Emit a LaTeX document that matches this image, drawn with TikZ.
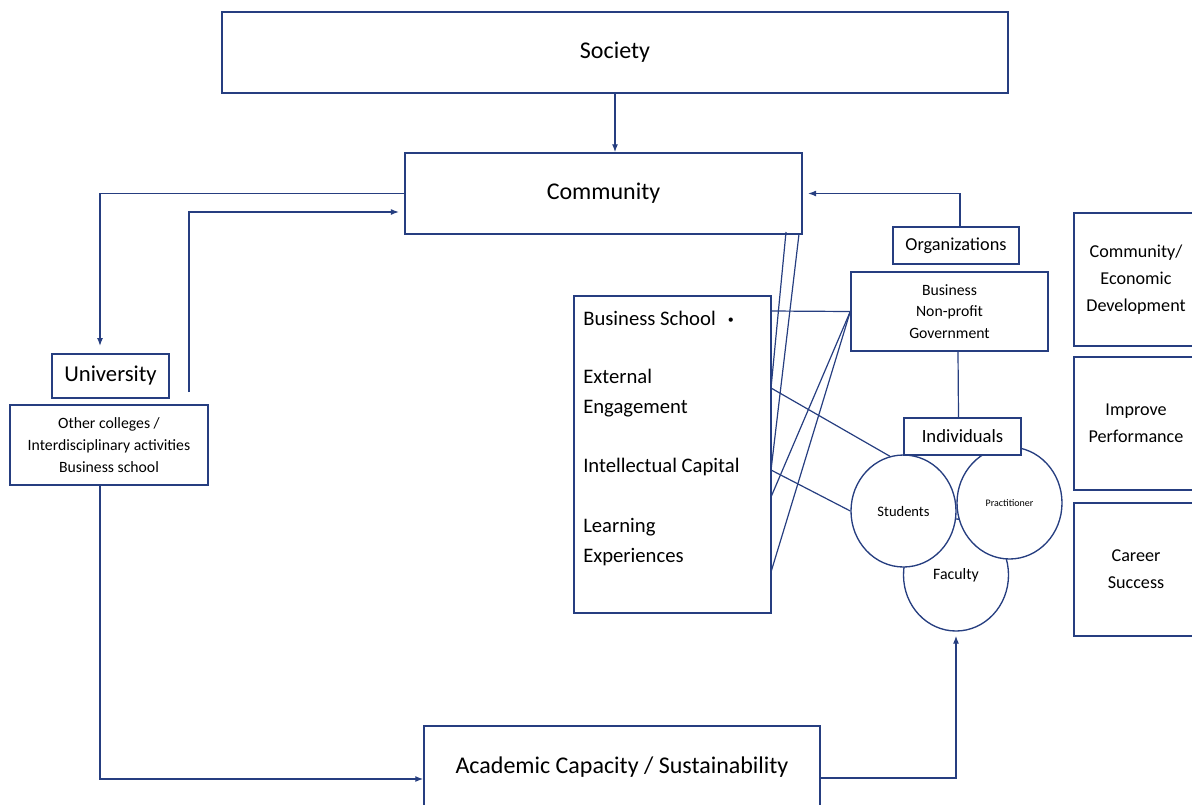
\documentclass[tikz,border=0pt]{standalone}
\usepackage{fontspec}
\setmainfont{Carlito}
\usepackage{xcolor}
\usepackage{tikz}
\usetikzlibrary{shapes}
\usetikzlibrary{calc}
\usetikzlibrary{arrows.meta}
\definecolor{navy}{RGB}{38,62,128}
\tikzset{ box_node/.style = {rectangle, draw=navy, line width=1.1pt, fill=white, align=center, inner sep=2pt} }
\tikzset{ person_node/.style = {ellipse, draw=navy, line width=1pt, fill=white, inner sep=0pt, minimum width=78.75pt, minimum height=84pt} }
\tikzset{ item_node/.style = {anchor=west, align=left, inner sep=0pt, font=\fontsize{15.5}{22.5}\selectfont} }
\tikzset{ flow/.style = {draw=navy, line width=1pt, -{Latex[length=6pt,width=4.5pt]}} }
\tikzset{ link/.style = {draw=navy, line width=0.9pt} }

\begin{document}
\begin{tikzpicture}[x=0.75pt,y=-0.75pt]
    \useasboundingbox (0,0) rectangle (1192,804);
    \clip (0,0) rectangle (1192,804);
    % top
    \node [style=box_node, minimum width=589.5pt, minimum height=60.75pt, font=\fontsize{18}{22}\selectfont] (Society) at (615,52.5) {Society};
    \node [style=box_node, minimum width=297.75pt, minimum height=60.75pt, font=\fontsize{18}{22}\selectfont] (Community) at (603.5,193.5) {Community};
    % university side
    \node [style=box_node, minimum width=87.75pt, minimum height=33pt, font=\fontsize{17}{20}\selectfont] (University) at (110.5,376) {University};
    \node [style=box_node, minimum width=148.5pt, minimum height=60pt, font=\fontsize{11.8}{16.5}\selectfont] (Colleges) at (109,445) {Other colleges /\\Interdisciplinary activities\\Business school};
    \node [style=box_node, minimum width=297pt, minimum height=61.5pt, font=\fontsize{18}{22}\selectfont] (Academic) at (622,767) {Academic Capacity / Sustainability};
    % business school
    \node [style=box_node, minimum width=147.75pt, minimum height=237.75pt] (BSchool) at (672.5,454.5) {};
    \node [style=item_node] (BS) at (583,318) {Business School\hspace{9pt}\raisebox{1pt}{\fontsize{9}{9}\selectfont\textbullet}};
    \node [style=item_node] (EE) at (583,393) {External\\Engagement};
    \node [style=item_node] (IC) at (583,467) {Intellectual Capital};
    \node [style=item_node] (LE) at (583,542) {Learning\\Experiences};
    % organizations and individuals
    \node [style=box_node, minimum width=94.5pt, minimum height=27.75pt, font=\fontsize{13.7}{16}\selectfont] (Org) at (956,245.5) {Organizations};
    \node [style=box_node, minimum width=147.75pt, minimum height=59.25pt, font=\fontsize{11.8}{16}\selectfont] (Sectors) at (949.5,311.5) {Business\\Non-profit\\Government};
    \node [style=person_node, font=\fontsize{11.9}{14}\selectfont] (Faculty) at (956,575) {Faculty};
    \node [style=person_node, font=\fontsize{10.9}{13}\selectfont] (Students) at (903.5,511) {Students};
    \node [style=person_node, font=\fontsize{7.5}{9}\selectfont] (Practitioner) at (1009.5,503) {Practitioner};
    \node [style=box_node, minimum width=87.75pt, minimum height=27.75pt, font=\fontsize{14}{16}\selectfont] (Individuals) at (962.5,436.5) {Individuals};
    % outcomes
    \node [style=box_node, minimum width=93pt, minimum height=99.75pt, font=\fontsize{13.6}{20}\selectfont] (Econ) at (1136,279.5) {Community/\\Economic\\Development};
    \node [style=box_node, minimum width=93pt, minimum height=99.75pt, font=\fontsize{13.6}{20}\selectfont] (Perf) at (1136,423.5) {Improve\\Performance};
    \node [style=box_node, minimum width=93pt, minimum height=99.75pt, font=\fontsize{13.6}{20}\selectfont] (Career) at (1136,569.5) {Career\\Success};
    % loose ends
    \coordinate (UniIn) at (100,346);
    \coordinate (UniOut) at (189,392);
    \coordinate (ColOut) at (100,485);
    \coordinate (CmA) at (786,232);
    \coordinate (CmB) at (799,234);
    \coordinate (BSpt) at (771,311);
    \coordinate (EEpt) at (771,388);
    \coordinate (ICpt) at (771,470);
    \coordinate (ICpt2) at (771,497);
    \coordinate (LEpt) at (771,572);
    % arrows
    \draw [style=flow] (Society.south) -- (Society.south |- Community.north);
    \draw [style=flow] (Community.west) -| (UniIn);
    \draw [style=flow, shorten >=4pt] (UniOut) |- ($(Community.west)+(0,18.5)$);
    \draw [style=flow] (ColOut) |- ($(Academic.west)+(0,12)$);
    \draw [style=flow, shorten >=3pt] ($(Academic.east)+(0,11)$) -| (Faculty.south);
    \draw [style=flow, shorten >=4pt] ($(Org.north)+(4,0)$) |- (Community.east);
    \draw [style=link] ($(Sectors.south)+(8.5,0)$) -- ($(Individuals.north)+(-4,0)$);
    % links into the business school
    \draw [style=link] (Sectors.west) -- (BSpt);
    \draw [style=link] (Sectors.west) -- (ICpt2);
    \draw [style=link] (Sectors.west) -- (LEpt);
    \draw [style=link] (CmA) -- (EEpt);
    \draw [style=link] (CmB) -- (ICpt);
    \draw [style=link] (EEpt) -- (Students.104);
    \draw [style=link] (ICpt) -- (Students.west);
\end{tikzpicture}
\end{document}
